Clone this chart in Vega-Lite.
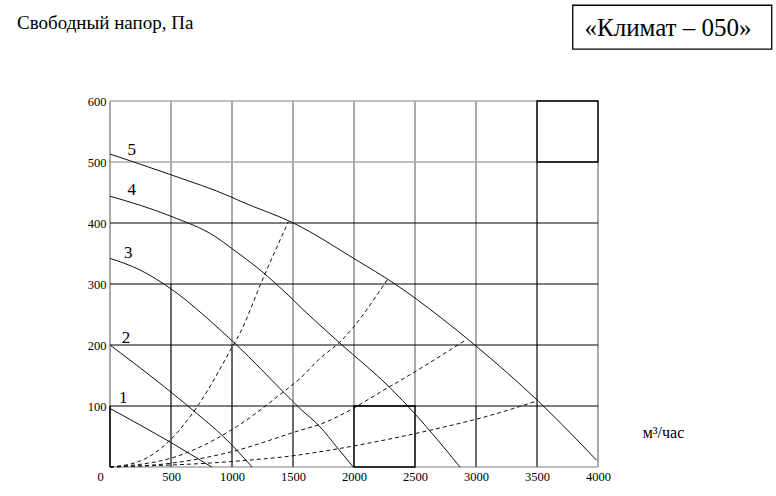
{
  "$schema": "https://vega.github.io/schema/vega-lite/v6.json",
  "width": 488,
  "height": 366,
  "autosize": {"type": "none"},
  "padding": {"left": 110, "top": 101, "right": 178, "bottom": 29},
  "background": "white",
  "config": {"view": {"stroke": null}, "font": "Liberation Serif", "text": {"font": "Liberation Serif"}},
  "datasets": {
    "fan": [
      {"curve": "1", "x": 0, "y": 96}, {"curve": "1", "x": 492, "y": 41}, {"curve": "1", "x": 833, "y": 0},
      {"curve": "2", "x": 0, "y": 200}, {"curve": "2", "x": 492, "y": 124}, {"curve": "2", "x": 710, "y": 88}, {"curve": "2", "x": 929, "y": 50}, {"curve": "2", "x": 1165, "y": 0},
      {"curve": "3", "x": 0, "y": 342}, {"curve": "3", "x": 246, "y": 323}, {"curve": "3", "x": 500, "y": 292}, {"curve": "3", "x": 902, "y": 225}, {"curve": "3", "x": 1038, "y": 200}, {"curve": "3", "x": 1230, "y": 162}, {"curve": "3", "x": 1421, "y": 123}, {"curve": "3", "x": 1557, "y": 96}, {"curve": "3", "x": 1721, "y": 66}, {"curve": "3", "x": 1858, "y": 33}, {"curve": "3", "x": 1994, "y": 0},
      {"curve": "4", "x": 0, "y": 444}, {"curve": "4", "x": 500, "y": 411}, {"curve": "4", "x": 861, "y": 378}, {"curve": "4", "x": 1000, "y": 358}, {"curve": "4", "x": 1230, "y": 323}, {"curve": "4", "x": 1475, "y": 279}, {"curve": "4", "x": 1557, "y": 263}, {"curve": "4", "x": 1885, "y": 203}, {"curve": "4", "x": 2295, "y": 130}, {"curve": "4", "x": 2500, "y": 87}, {"curve": "4", "x": 2869, "y": 0},
      {"curve": "5", "x": 0, "y": 513}, {"curve": "5", "x": 500, "y": 479}, {"curve": "5", "x": 1000, "y": 442}, {"curve": "5", "x": 1066, "y": 436}, {"curve": "5", "x": 1503, "y": 400}, {"curve": "5", "x": 2022, "y": 339}, {"curve": "5", "x": 2336, "y": 300}, {"curve": "5", "x": 2705, "y": 246}, {"curve": "5", "x": 2990, "y": 200}, {"curve": "5", "x": 3510, "y": 108}, {"curve": "5", "x": 3989, "y": 11}
    ],
    "system": [
      {"curve": "a", "x": 0, "y": 0}, {"curve": "a", "x": 250, "y": 10}, {"curve": "a", "x": 492, "y": 44}, {"curve": "a", "x": 715, "y": 99}, {"curve": "a", "x": 997, "y": 195}, {"curve": "a", "x": 1079, "y": 225}, {"curve": "a", "x": 1235, "y": 300}, {"curve": "a", "x": 1462, "y": 402},
      {"curve": "b", "x": 0, "y": 0}, {"curve": "b", "x": 492, "y": 14}, {"curve": "b", "x": 997, "y": 61}, {"curve": "b", "x": 1421, "y": 123}, {"curve": "b", "x": 1557, "y": 145}, {"curve": "b", "x": 1721, "y": 178}, {"curve": "b", "x": 1885, "y": 205}, {"curve": "b", "x": 2273, "y": 307},
      {"curve": "c", "x": 0, "y": 0}, {"curve": "c", "x": 492, "y": 6}, {"curve": "c", "x": 997, "y": 25}, {"curve": "c", "x": 1557, "y": 60}, {"curve": "c", "x": 1721, "y": 70}, {"curve": "c", "x": 2295, "y": 132}, {"curve": "c", "x": 2923, "y": 209},
      {"curve": "d", "x": 0, "y": 0}, {"curve": "d", "x": 997, "y": 9}, {"curve": "d", "x": 1557, "y": 20}, {"curve": "d", "x": 1721, "y": 25}, {"curve": "d", "x": 2705, "y": 64}, {"curve": "d", "x": 3033, "y": 80}, {"curve": "d", "x": 3497, "y": 108}
    ],
    "vgrid": [
      {"x": 0, "y": 0, "y2": 600}, {"x": 500, "y": 0, "y2": 600}, {"x": 1000, "y": 0, "y2": 600}, {"x": 1500, "y": 0, "y2": 600}, {"x": 2000, "y": 0, "y2": 600},
      {"x": 2500, "y": 0, "y2": 600}, {"x": 3000, "y": 0, "y2": 600}, {"x": 3500, "y": 0, "y2": 600}, {"x": 4000, "y": 0, "y2": 600}
    ],
    "hgray": [
      {"x": 0, "x2": 4000, "y": 0}, {"x": 0, "x2": 4000, "y": 500}, {"x": 0, "x2": 4000, "y": 600}
    ],
    "dark": [
      {"x": 500, "y": 0, "y2": 300}, {"x": 1000, "y": 0, "y2": 200}, {"x": 1500, "y": 0, "y2": 100},
      {"x": 3000, "y": 0, "y2": 100}, {"x": 3500, "y": 0, "y2": 500}
    ],
    "hblack": [
      {"x": 0, "x2": 4000, "y": 100}, {"x": 0, "x2": 4000, "y": 200}, {"x": 0, "x2": 4000, "y": 300}, {"x": 0, "x2": 4000, "y": 400}
    ],
    "boxes": [
      {"x": 3500, "x2": 4000, "y": 500, "y2": 600},
      {"x": 2000, "x2": 2500, "y": 0, "y2": 100}
    ],
    "leftblack": [{"x": 0, "y": 0, "y2": 100}],
    "curvelabels": [
      {"label": "1", "x": 109, "y": 113}, {"label": "2", "x": 131, "y": 211}, {"label": "3", "x": 150, "y": 351},
      {"label": "4", "x": 178, "y": 454}, {"label": "5", "x": 178, "y": 520}
    ],
    "namebox": [{"x": 3793, "x2": 5424, "y": 757, "y2": 685}],
    "nametext": [{"label": "«Климат – 050»", "x": 4574, "y": 720}],
    "unit": [{"label": "м³/час", "x": 4537, "y": 55}],
    "ytitle": [{"label": "Свободный напор, Па", "x": -762, "y": 728}]
  },
  "encoding": {
    "x": {
      "field": "x", "type": "quantitative",
      "scale": {"domain": [0, 4000], "nice": false, "zero": false},
      "axis": {
        "values": [0, 500, 1000, 1500, 2000, 2500, 3000, 3500, 4000], "format": "d",
        "ticks": false, "domain": false, "grid": false, "title": null,
        "labelFont": "Liberation Serif", "labelFontSize": 12.5, "labelColor": "#000",
        "labelPadding": 3, "labelAngle": 0, "labelFlush": false, "labelOverlap": false,
        "labelOffset": {"condition": {"test": "datum.value == 0", "value": -10}, "value": 0}
      }
    },
    "y": {
      "field": "y", "type": "quantitative",
      "scale": {"domain": [0, 600], "nice": false, "zero": false},
      "axis": {
        "values": [100, 200, 300, 400, 500, 600], "format": "d",
        "ticks": false, "domain": false, "grid": false, "title": null,
        "labelFont": "Liberation Serif", "labelFontSize": 12.5, "labelColor": "#000",
        "labelPadding": 4, "labelFlush": false, "labelOverlap": false
      }
    }
  },
  "layer": [
    {"data": {"name": "vgrid"}, "mark": {"type": "rule", "color": "#aaaaaa", "strokeWidth": 2}, "encoding": {"y2": {"field": "y2"}}},
    {"data": {"name": "hgray"}, "mark": {"type": "rule", "color": "#aaaaaa", "strokeWidth": 1.5}, "encoding": {"x2": {"field": "x2"}}},
    {"data": {"name": "dark"}, "mark": {"type": "rule", "color": "#6a6a6a", "strokeWidth": 2}, "encoding": {"y2": {"field": "y2"}}},
    {"data": {"name": "leftblack"}, "mark": {"type": "rule", "color": "#000", "strokeWidth": 1.5}, "encoding": {"y2": {"field": "y2"}}},
    {"data": {"name": "hblack"}, "mark": {"type": "rule", "color": "#000", "strokeWidth": 1.2}, "encoding": {"x2": {"field": "x2"}}},
    {"data": {"name": "boxes"}, "mark": {"type": "rect", "fill": null, "fillOpacity": 0, "stroke": "#000", "strokeWidth": 1.3}, "encoding": {"x2": {"field": "x2"}, "y2": {"field": "y2"}}},
    {"data": {"name": "system"}, "mark": {"type": "line", "color": "#111", "strokeWidth": 1, "strokeDash": [4, 3], "interpolate": "monotone"}, "encoding": {"detail": {"field": "curve"}, "order": {"field": "x"}}},
    {"data": {"name": "fan"}, "mark": {"type": "line", "color": "#111", "strokeWidth": 1, "interpolate": "monotone"}, "encoding": {"detail": {"field": "curve"}, "order": {"field": "x"}}},
    {"data": {"name": "curvelabels"}, "mark": {"type": "text", "font": "Liberation Serif", "fontSize": 17, "color": "#000", "align": "center", "baseline": "middle"}, "encoding": {"text": {"field": "label"}}},
    {"data": {"name": "namebox"}, "mark": {"type": "rect", "fill": "white", "stroke": "#000", "strokeWidth": 1.3}, "encoding": {"x2": {"field": "x2"}, "y2": {"field": "y2"}}},
    {"data": {"name": "nametext"}, "mark": {"type": "text", "font": "Liberation Serif", "fontSize": 25, "color": "#000", "align": "center", "baseline": "middle"}, "encoding": {"text": {"field": "label"}}},
    {"data": {"name": "unit"}, "mark": {"type": "text", "font": "Liberation Serif", "fontSize": 16, "color": "#000", "align": "center", "baseline": "middle"}, "encoding": {"text": {"field": "label"}}},
    {"data": {"name": "ytitle"}, "mark": {"type": "text", "font": "Liberation Serif", "fontSize": 19, "color": "#000", "align": "left", "baseline": "middle"}, "encoding": {"text": {"field": "label"}}}
  ]
}
